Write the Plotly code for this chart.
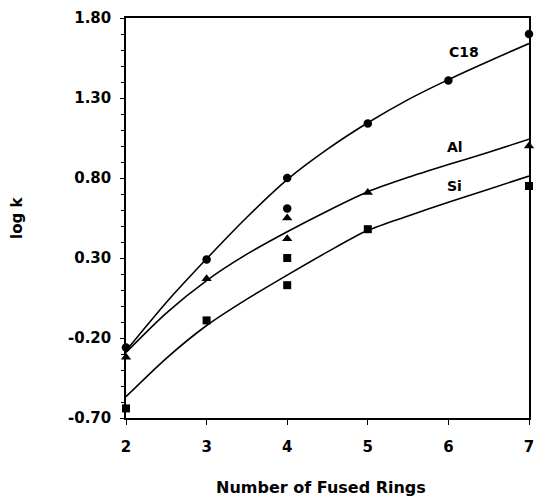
import plotly.graph_objects as go

# Measured data points
c18_x = [2, 3, 4, 4, 5, 6, 7]
c18_y = [-0.26, 0.29, 0.80, 0.61, 1.14, 1.41, 1.70]
al_x = [2, 3, 4, 4, 5, 7]
al_y = [-0.32, 0.17, 0.55, 0.42, 0.71, 1.00]
si_x = [2, 3, 4, 4, 5, 7]
si_y = [-0.64, -0.09, 0.30, 0.13, 0.48, 0.75]

# Fitted curves
fit_x = [2, 2.5, 3, 3.5, 4, 4.5, 5, 5.5, 6, 6.5, 7]
c18_fit = [-0.28, 0.022, 0.295, 0.555, 0.79, 0.98, 1.145, 1.29, 1.415, 1.53, 1.64]
al_fit = [-0.29, -0.044, 0.159, 0.324, 0.464, 0.594, 0.714, 0.804, 0.884, 0.961, 1.042]
si_fit = [-0.567, -0.327, -0.122, 0.043, 0.193, 0.338, 0.473, 0.563, 0.648, 0.730, 0.812]

labels = ["C18", "Al", "Si"]
label_x = [6.19, 6.08, 6.08]
label_y = [1.5875, 0.996, 0.752]

FAM = "DejaVu Sans"
font = dict(family=FAM, size=15, color="black")

fig = go.Figure()
for fy in [c18_fit, al_fit, si_fit]:
    fig.add_trace(go.Scatter(x=fit_x, y=fy, mode="lines",
                             line=dict(color="black", width=1.6, shape="spline", smoothing=0.8),
                             showlegend=False, cliponaxis=False, hoverinfo="skip"))
for xs, ys, sym, sz in [(c18_x, c18_y, "circle", 8.5), (al_x, al_y, "triangle-up", 9), (si_x, si_y, "square", 8)]:
    fig.add_trace(go.Scatter(x=xs, y=ys, mode="markers",
                             marker=dict(symbol=sym, color="black", size=sz, line=dict(width=0)),
                             showlegend=False, cliponaxis=False))

for txt, lx, ly in zip(labels, label_x, label_y):
    fig.add_annotation(x=lx, y=ly, text="<b>%s</b>" % txt, showarrow=False,
                       font=dict(family=FAM, size=14, color="black"))

fig.add_annotation(xref="paper", yref="paper", x=-0.2705, y=0.5, text="<b>log k</b>", textangle=-90,
                   showarrow=False, font=font, xanchor="center", yanchor="middle")
fig.add_annotation(xref="paper", yref="paper", x=0.484, y=-0.173, text="<b>Number of Fused Rings</b>",
                   showarrow=False, font=dict(family=FAM, size=16, color="black"),
                   xanchor="center", yanchor="middle")

fig.update_layout(
    width=534, height=498,
    margin=dict(l=126, r=5, t=18, b=80, autoexpand=False),
    plot_bgcolor="white", paper_bgcolor="white",
    font=font,
)
xt = [2, 3, 4, 5, 6, 7]
fig.update_xaxes(range=[2, 7], tickvals=xt, ticktext=["<b>%d</b>" % v for v in xt],
                 showgrid=False, zeroline=False, showline=True, linecolor="black", linewidth=1.5, mirror=True,
                 ticks="outside", ticklen=5, tickwidth=1.2, tickcolor="black", automargin=False,
                 ticklabelstandoff=9, ticklabeloverflow="allow")
yt = [-0.70, -0.20, 0.30, 0.80, 1.30, 1.80]
fig.update_yaxes(range=[-0.70, 1.80], tickvals=yt, ticktext=["<b>%.2f</b>" % v for v in yt],
                 showgrid=False, zeroline=False, showline=True, linecolor="black", linewidth=1.5, mirror=True,
                 ticks="outside", ticklen=4, tickwidth=1.2, tickcolor="black", automargin=False,
                 minor=dict(dtick=0.1, tick0=-0.7, ticks="outside", ticklen=3, tickcolor="black", tickwidth=1),
                 ticklabelstandoff=6, ticklabeloverflow="allow")

fig.write_html("out.html")
